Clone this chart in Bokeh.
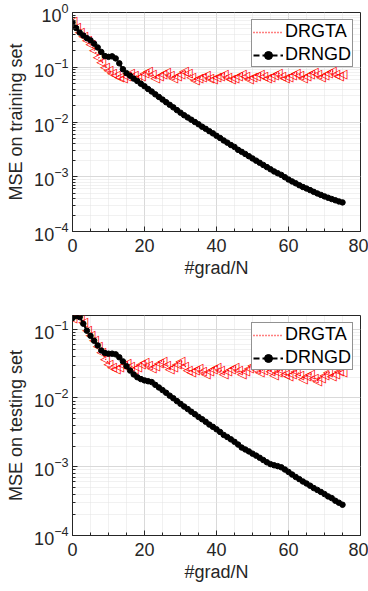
import numpy as np
from bokeh.plotting import figure
from bokeh.layouts import column
from bokeh.models import (Range1d, FixedTicker, LogTickFormatter, Legend, LegendItem,
                          ColumnDataSource)
from bokeh.core.properties import value
from bokeh.embed import file_html
from bokeh.resources import INLINE

x = list(range(76))

train_drgta = [0.70, 0.55, 0.45, 0.38, 0.32, 0.27, 0.21, 0.16, 0.13, 0.105,
               0.09, 0.08, 0.075, 0.068, 0.064, 0.072, 0.080, 0.075, 0.066, 0.072,
               0.080, 0.086, 0.076, 0.066, 0.071, 0.078, 0.085, 0.074, 0.065, 0.070,
               0.078, 0.086, 0.080, 0.068, 0.060, 0.064, 0.068, 0.073, 0.066, 0.062,
               0.067, 0.072, 0.077, 0.068, 0.062, 0.066, 0.071, 0.077, 0.070, 0.063,
               0.067, 0.072, 0.078, 0.071, 0.064, 0.068, 0.074, 0.080, 0.072, 0.064,
               0.069, 0.075, 0.081, 0.073, 0.066, 0.071, 0.077, 0.084, 0.076, 0.068,
               0.073, 0.080, 0.088, 0.078, 0.070, 0.076]

train_drngd = [0.66, 0.52, 0.43, 0.38, 0.34, 0.31, 0.27, 0.23, 0.19, 0.16,
               0.155, 0.158, 0.145, 0.118, 0.092, 0.078, 0.070, 0.062, 0.056, 0.050,
               0.045, 0.040, 0.036, 0.032, 0.0287, 0.0257, 0.023, 0.0206, 0.0185, 0.0165,
               0.0148, 0.0133, 0.0121, 0.0110, 0.0100, 0.0091, 0.0082, 0.0075, 0.0068, 0.0062,
               0.0056, 0.0051, 0.0046, 0.0042, 0.0038, 0.0035, 0.0031, 0.00285, 0.0026, 0.00237,
               0.00216, 0.00197, 0.0018, 0.00164, 0.0015, 0.00137, 0.00125, 0.00116, 0.00108, 0.00098,
               0.00089, 0.00082, 0.00076, 0.00070, 0.00065, 0.00061, 0.00057, 0.00053, 0.000496, 0.000466,
               0.000438, 0.000414, 0.000392, 0.000372, 0.000354, 0.00034]

test_drgta = [0.15, 0.17, 0.16, 0.13, 0.10, 0.085, 0.07, 0.057, 0.047, 0.038,
              0.032, 0.029, 0.027, 0.029, 0.031, 0.033, 0.030, 0.027, 0.029, 0.032,
              0.034, 0.031, 0.028, 0.030, 0.033, 0.035, 0.031, 0.027, 0.029, 0.032,
              0.035, 0.030, 0.026, 0.024, 0.026, 0.028, 0.025, 0.023, 0.025, 0.027,
              0.029, 0.026, 0.023, 0.025, 0.027, 0.029, 0.026, 0.023, 0.025, 0.028,
              0.031, 0.027, 0.024, 0.026, 0.029, 0.025, 0.022, 0.024, 0.026, 0.023,
              0.021, 0.023, 0.025, 0.022, 0.019, 0.021, 0.023, 0.020, 0.018, 0.020,
              0.022, 0.024, 0.021, 0.023, 0.025, 0.024]

test_drngd = [0.145, 0.155, 0.15, 0.12, 0.095, 0.08, 0.068, 0.058, 0.049, 0.045,
              0.044, 0.044, 0.043, 0.039, 0.034, 0.029, 0.025, 0.022, 0.020, 0.0188,
              0.018, 0.0175, 0.017, 0.0155, 0.0142, 0.013, 0.0119, 0.0108, 0.0099, 0.009,
              0.0082, 0.0075, 0.0069, 0.0063, 0.0058, 0.0053, 0.0049, 0.0045, 0.0041, 0.0038,
              0.0035, 0.0032, 0.0029, 0.0027, 0.0025, 0.0023, 0.0021, 0.0019, 0.00178, 0.00167,
              0.00155, 0.00145, 0.00135, 0.00125, 0.00116, 0.00109, 0.00105, 0.00102, 0.00098, 0.00091,
              0.00084, 0.00077, 0.00071, 0.00066, 0.00061, 0.00057, 0.00053, 0.00049, 0.00046, 0.00043,
              0.0004, 0.00037, 0.00035, 0.00032, 0.0003, 0.00028]

x_ticks = [0, 20, 40, 60, 80]
y_ticks = [1e-4, 1e-3, 1e-2, 1e-1, 1e0]
series_names = ["DRGTA", "DRNGD"]

FONT = "Liberation Sans"
AX = "#262626"


def make_fig(ydata_r, ydata_b, ylabel, ytop, height, top_b, bottom_b):
    p = figure(width=368, height=height, y_axis_type="log",
               x_range=Range1d(0, 80), y_range=Range1d(1e-4, ytop),
               output_backend="svg", toolbar_location=None,
               min_border_left=72, min_border_right=8,
               min_border_top=top_b, min_border_bottom=bottom_b)
    p.background_fill_color = "white"
    p.outline_line_color = AX
    p.outline_line_width = 1

    minor_x = [v for v in range(0, 81, 5) if v % 20 != 0]
    minor_y = [m * d for d in y_ticks[:-1] for m in range(2, 10)]
    p.xaxis.ticker = FixedTicker(ticks=x_ticks, minor_ticks=minor_x)
    p.yaxis.ticker = FixedTicker(ticks=y_ticks, minor_ticks=minor_y)
    p.yaxis.formatter = LogTickFormatter()

    for ax in (p.xaxis[0], p.yaxis[0]):
        ax.axis_line_color = AX
        ax.major_tick_line_color = AX
        ax.minor_tick_line_color = AX
        ax.major_tick_in = 5
        ax.major_tick_out = 0
        ax.minor_tick_in = 3
        ax.minor_tick_out = 0
        ax.major_label_text_font = FONT
        ax.major_label_text_font_size = "18px"
        ax.major_label_text_color = AX
        ax.axis_label_text_font = FONT
        ax.axis_label_text_font_size = "18px"
        ax.axis_label_text_font_style = "normal"
        ax.axis_label_text_color = AX
    p.xaxis.axis_label = "#grad/N"
    p.yaxis.axis_label = ylabel
    p.xaxis.major_label_standoff = 7
    p.xaxis.axis_label_standoff = 3
    p.yaxis.major_label_standoff = 4
    p.yaxis.axis_label_standoff = 5

    for g in (p.xgrid[0], p.ygrid[0]):
        g.grid_line_color = "#d9d9d9"
        g.grid_line_width = 1
        g.minor_grid_line_color = "#e3e3e3"
        g.minor_grid_line_dash = "1 1"
        g.minor_grid_line_width = 1

    src_r = ColumnDataSource(dict(x=x, y=ydata_r, m=["\u25C1"] * len(x)))
    lr = p.line(x, ydata_r, line_color="red", line_width=1.5, line_dash="1 2")
    tr = p.text("x", "y", text="m", source=src_r, text_font=value("DejaVu Sans"),
                text_font_size="13px", text_color="red", text_align="center",
                text_baseline="middle")
    lb = p.line(x, ydata_b, line_color="black", line_width=2, line_dash="6 3")
    sb = p.scatter(x, ydata_b, marker="circle", size=5.5, fill_color="black",
                   line_color="black")

    legend = Legend(items=[LegendItem(label=series_names[0], renderers=[lr, tr]),
                           LegendItem(label=series_names[1], renderers=[lb, sb])],
                    location="top_right")
    legend.label_text_font = FONT
    legend.label_text_font_size = "18px"
    legend.label_text_color = "black"
    legend.border_line_color = AX
    legend.border_line_width = 1
    legend.background_fill_alpha = 1
    legend.glyph_width = 30
    legend.glyph_height = 20
    legend.label_height = 20
    legend.label_standoff = 2
    legend.padding = 1
    legend.spacing = 2
    legend.margin = 7
    p.add_layout(legend, "center")
    return p


p1 = make_fig(train_drgta, train_drngd, "MSE on training set", 1.0, 300, 12, 69)
p2 = make_fig(test_drgta, test_drngd, "MSE on testing set", 0.158, 291, 15, 56)

layout = column(p1, p2, spacing=0)
open("out.html", "w").write(file_html(layout, INLINE))
